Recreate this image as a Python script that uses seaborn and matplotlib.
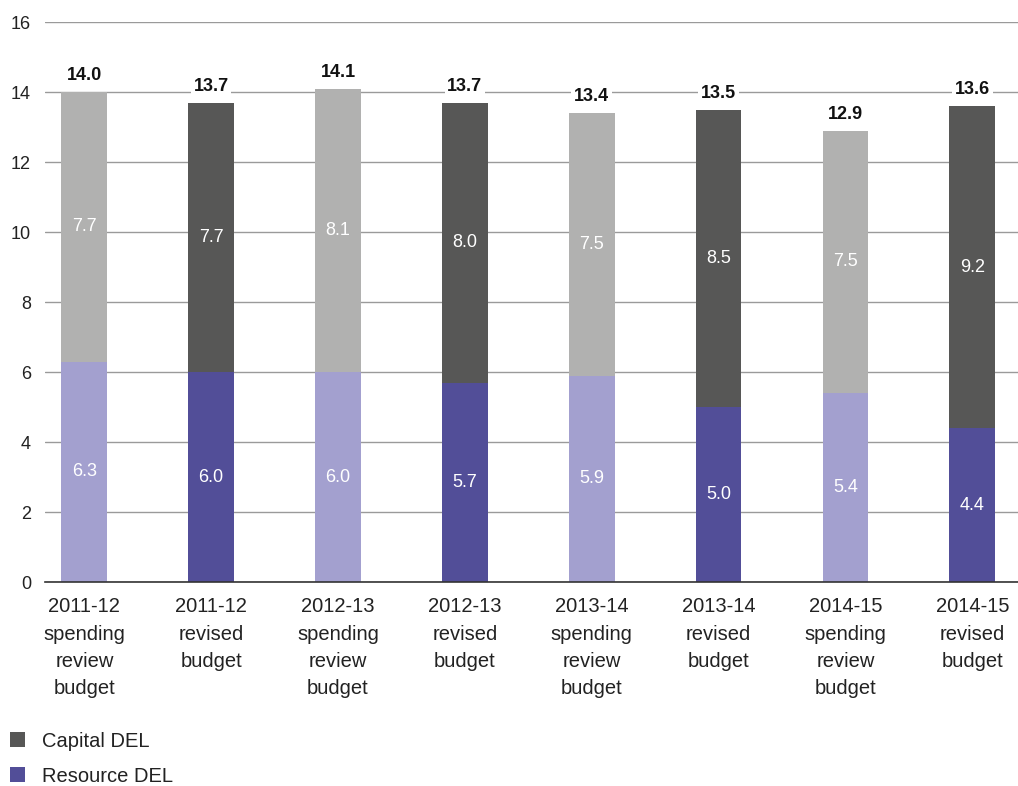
import matplotlib
matplotlib.use("Agg")
import matplotlib.pyplot as plt
from matplotlib.patches import Patch
import seaborn as sns
import pandas as pd

categories = [
    "2011-12\nspending\nreview\nbudget", "2011-12\nrevised\nbudget",
    "2012-13\nspending\nreview\nbudget", "2012-13\nrevised\nbudget",
    "2013-14\nspending\nreview\nbudget", "2013-14\nrevised\nbudget",
    "2014-15\nspending\nreview\nbudget", "2014-15\nrevised\nbudget",
]
resource_del = [6.3, 6.0, 6.0, 5.7, 5.9, 5.0, 5.4, 4.4]
capital_del = [7.7, 7.7, 8.1, 8.0, 7.5, 8.5, 7.5, 9.2]
y_ticks = [0, 2, 4, 6, 8, 10, 12, 14, 16]

# spending review bars are light, revised bars are dark
is_revised = [False, True, False, True, False, True, False, True]
CAP_LIGHT, CAP_DARK = "#b1b1b0", "#575756"
RES_LIGHT, RES_DARK = "#a3a0cf", "#524e98"

totals = [round(r + c, 1) for r, c in zip(resource_del, capital_del)]
df = pd.DataFrame({"category": categories, "resource": resource_del,
                   "capital": capital_del, "total": totals})

sns.set_theme(style="white")
plt.rcParams["font.family"] = ["Liberation Sans", "DejaVu Sans"]

fig = plt.figure(figsize=(10.18, 7.86), dpi=100)
ax = fig.add_axes([0.0442, 0.2595, 0.9558, 0.7125])

cap_pal = {c: (CAP_DARK if rv else CAP_LIGHT) for c, rv in zip(categories, is_revised)}
res_pal = {c: (RES_DARK if rv else RES_LIGHT) for c, rv in zip(categories, is_revised)}

bw = 0.36
# full stack height in capital colours, resource part drawn over it
sns.barplot(data=df, x="category", y="total", hue="category", palette=cap_pal,
            dodge=False, width=bw, saturation=1, legend=False, ax=ax, zorder=3,
            linewidth=0, edgecolor="none")
sns.barplot(data=df, x="category", y="resource", hue="category", palette=res_pal,
            dodge=False, width=bw, saturation=1, legend=False, ax=ax, zorder=3,
            linewidth=0, edgecolor="none")

for i, (r, c, t) in enumerate(zip(resource_del, capital_del, totals)):
    ax.text(i, r / 2, f"{r:.1f}", ha="center", va="center", color="white",
            fontsize=13, zorder=5)
    ax.text(i, r + c / 2, f"{c:.1f}", ha="center", va="center", color="white",
            fontsize=13, zorder=5)
    ax.text(i, t + 0.22, f"{t:.1f}", ha="center", va="bottom", color="#111111",
            fontsize=13, fontweight="bold", zorder=5,
            bbox=dict(facecolor="white", edgecolor="none", pad=2))

ax.set_ylim(0, 16)
ax.set_yticks(y_ticks)
ax.set_xlim(-0.31, 7.36)
ax.yaxis.grid(True, color="#9a9a9a", linewidth=1.0, zorder=0)
ax.set_axisbelow(True)
for s in ["top", "right", "left"]:
    ax.spines[s].set_visible(False)
ax.spines["bottom"].set_color("#333333")
ax.spines["bottom"].set_linewidth(1.2)
ax.spines["bottom"].set_zorder(4)
ax.tick_params(axis="both", length=0, labelsize=13, colors="#222222")
ax.tick_params(axis="y", pad=10)
ax.tick_params(axis="x", pad=11)
ax.set_xlabel("")
ax.set_ylabel("")
for lbl in ax.get_xticklabels():
    lbl.set_fontsize(14.5)
    lbl.set_linespacing(1.55)

handles = [Patch(facecolor=CAP_DARK, edgecolor="none", label="Capital DEL"),
           Patch(facecolor=RES_DARK, edgecolor="none", label="Resource DEL")]
fig.legend(handles=handles, loc="upper left", bbox_to_anchor=(0.0, 0.082),
           bbox_transform=fig.transFigure, frameon=False, fontsize=14.5,
           handlelength=0.75, handleheight=0.75, handletextpad=0.85,
           labelspacing=0.8, borderaxespad=0, borderpad=0.5,
           labelcolor="#222222")

fig.savefig("out.png", dpi=100)
